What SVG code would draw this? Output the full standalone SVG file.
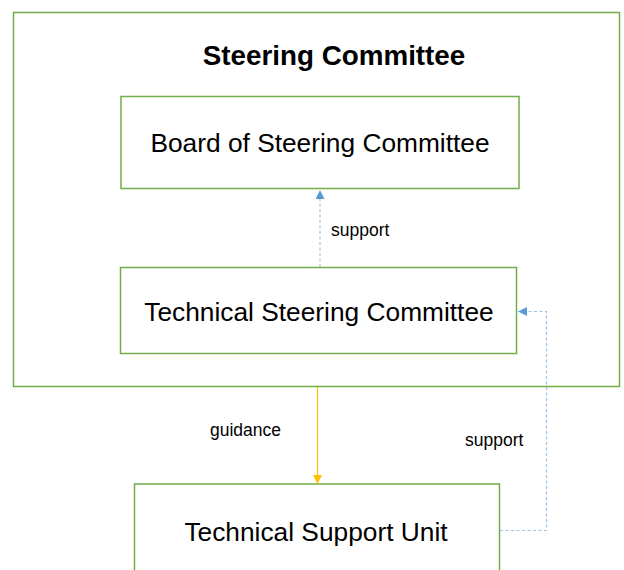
<svg xmlns="http://www.w3.org/2000/svg" width="624" height="570" viewBox="0 0 624 570">
  <defs>
    <style>
      .box { fill: #ffffff; stroke: #70AD47; stroke-width: 1.5; }
      .frame { fill: none; stroke: #70AD47; stroke-width: 1.5; }
      .node-text { font-family: "Liberation Sans", Arial, sans-serif; font-size: 26.3px; fill: #000000; text-anchor: middle; }
      .title { font-family: "Liberation Sans", Arial, sans-serif; font-size: 27.8px; font-weight: bold; fill: #000000; text-anchor: middle; }
      .label { font-family: "Liberation Sans", Arial, sans-serif; font-size: 17.5px; fill: #000000; }
      .dash { fill: none; stroke: #9DC3E6; stroke-width: 1.2; stroke-dasharray: 3 2.5; }
      .solid { fill: none; stroke: #FFC000; stroke-width: 1.2; }
    </style>
    <marker id="arrow-blue" viewBox="0 0 10 10" refX="10" refY="5" markerWidth="9" markerHeight="9" markerUnits="userSpaceOnUse" orient="auto">
      <path d="M0,0 L10,5 L0,10 Z" fill="#5B9BD5"/>
    </marker>
    <marker id="arrow-gold" viewBox="0 0 10 10" refX="10" refY="5" markerWidth="9" markerHeight="9" markerUnits="userSpaceOnUse" orient="auto">
      <path d="M0,0 L10,5 L0,10 Z" fill="#FFC000"/>
    </marker>
  </defs>

  <rect width="624" height="570" fill="#ffffff"/>

  <!-- Outer Steering Committee frame -->
  <g id="steering-committee">
    <rect class="frame" x="13.5" y="12.5" width="606" height="374"/>
    <text class="title" x="334" y="65">Steering Committee</text>
  </g>

  <g id="board">
    <rect class="box" x="121" y="96.5" width="398" height="92"/>
    <text class="node-text" x="320" y="152">Board of Steering Committee</text>
  </g>

  <g id="technical-steering">
    <rect class="box" x="120.5" y="267.5" width="396" height="86"/>
    <text class="node-text" x="319" y="321">Technical Steering Committee</text>
  </g>

  <g id="technical-support-unit">
    <rect class="box" x="134.5" y="484" width="365" height="100"/>
    <text class="node-text" x="316" y="541">Technical Support Unit</text>
  </g>

  <!-- Connectors -->
  <g id="connectors">
    <path class="dash" d="M320,267 L320,190" marker-end="url(#arrow-blue)"/>
    <path class="solid" d="M317.5,387 L317.5,484" marker-end="url(#arrow-gold)"/>
    <path class="dash" d="M500,530.5 L546.5,530.5 L546.5,311.5 L518,311.5" marker-end="url(#arrow-blue)"/>
    <text class="label" x="331" y="236">support</text>
    <text class="label" x="210" y="436">guidance</text>
    <text class="label" x="465" y="446">support</text>
  </g>
</svg>
